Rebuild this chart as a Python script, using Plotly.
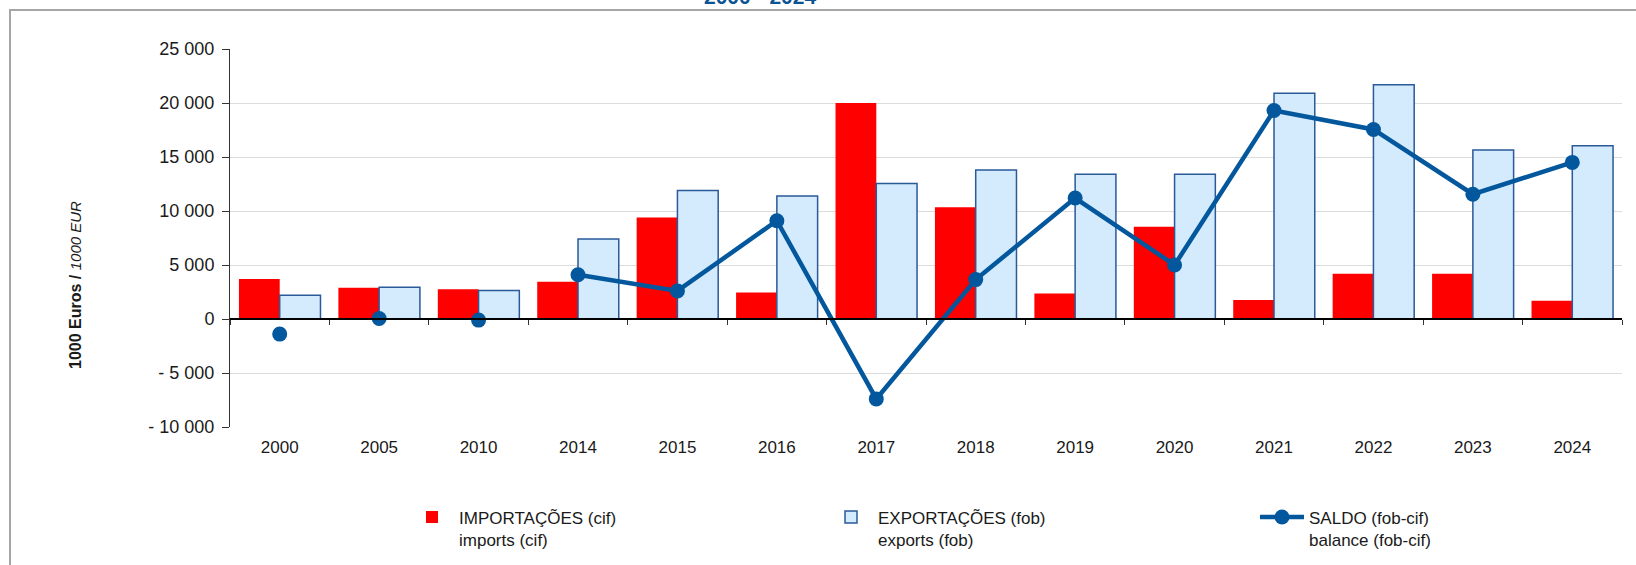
import plotly.graph_objects as go

years = ["2000", "2005", "2010", "2014", "2015", "2016", "2017", "2018",
         "2019", "2020", "2021", "2022", "2023", "2024"]
imports_cif = [3700, 2900, 2750, 3450, 9400, 2450, 20000, 10350, 2350, 8550,
               1750, 4200, 4200, 1700]
exports_fob = [2200, 2950, 2650, 7400, 11900, 11400, 12550, 13800, 13400, 13400,
               20900, 21700, 15650, 16050]
balance = [-1400, 50, -100, 4100, 2600, 9100, -7400, 3650, 11200, 5000,
           19300, 17550, 11550, 14500]
# first years are isolated (non-consecutive) points, the line starts in 2014
first_connected = 3

ytick_vals = [-10000, -5000, 0, 5000, 10000, 15000, 20000, 25000]
ytick_text = ["- 10 000", "- 5 000", "0", "5 000", "10 000", "15 000", "20 000", "25 000"]

FONT = "Liberation Sans, Arial, sans-serif"
RED = "#ff0000"
LBLUE = "#d3ebfd"
DBLUE = "#2a5a98"
LINE = "#03579d"
TXT = "#1a1a1a"

fig = go.Figure()
fig.add_trace(go.Bar(
    x=years, y=imports_cif, name="IMPORTAÇÕES (cif)<br>imports (cif)",
    marker=dict(color=RED, line=dict(width=0)), legend="legend"))
fig.add_trace(go.Bar(
    x=years, y=exports_fob, name="EXPORTAÇÕES (fob)<br>exports (fob)",
    marker=dict(color=LBLUE, line=dict(color=DBLUE, width=1.5)), legend="legend2"))
fig.add_trace(go.Scatter(
    x=years[:first_connected], y=balance[:first_connected], mode="markers",
    marker=dict(color=LINE, size=15), showlegend=False, legendgroup="saldo"))
fig.add_trace(go.Scatter(
    x=years[first_connected:], y=balance[first_connected:], mode="lines+markers",
    name="SALDO (fob-cif)<br>balance (fob-cif)", legendgroup="saldo",
    line=dict(color=LINE, width=4.5), marker=dict(color=LINE, size=15),
    legend="legend3"))
# helper (invisible) trace carrying the zero-line axis with boundary ticks
fig.add_trace(go.Scatter(
    x=years, y=[None] * len(years), xaxis="x2", showlegend=False,
    hoverinfo="skip", mode="markers"))

W, H = 1636, 565
L, R, T, B = 230, 14, 49, 138
pw, ph = W - L - R, H - T - B


def px_x(p):
    return (p - L) / pw


def px_y(p):
    return 1 - (p - T) / ph


legend_common = dict(orientation="v", xanchor="left", yanchor="top",
                      bgcolor="rgba(0,0,0,0)", borderwidth=0,
                      font=dict(family=FONT, size=17, color=TXT),
                      valign="top", itemwidth=44)

fig.update_layout(
    width=W, height=H,
    margin=dict(l=L, r=R, t=T, b=B, autoexpand=False),
    paper_bgcolor="white", plot_bgcolor="white",
    barmode="group", bargap=0.18, bargroupgap=0,
    font=dict(family=FONT, color=TXT),
    legend=dict(x=px_x(405), y=px_y(499.5), **legend_common),
    legend2=dict(x=px_x(824), y=px_y(499.5), **legend_common),
    legend3=dict(x=px_x(1255), y=px_y(499.5), **legend_common),
    xaxis=dict(type="category", range=[-0.5, len(years) - 0.5], autorange=False,
               showgrid=False, showline=False, ticks="",
               tickfont=dict(family=FONT, size=17, color=TXT),
               ticklabelstandoff=8, fixedrange=True),
    xaxis2=dict(type="category", overlaying="x", matches="x", anchor="free",
                position=(0 - ytick_vals[0]) / (ytick_vals[-1] - ytick_vals[0]),
                side="bottom", showline=True, linecolor="#000000", linewidth=1.5,
                ticks="outside", ticklen=5, tickcolor="#333333", tickwidth=1,
                tickson="boundaries", showticklabels=False, showgrid=False),
    yaxis=dict(range=[ytick_vals[0], ytick_vals[-1]], tickvals=ytick_vals,
               ticktext=ytick_text, showgrid=True, gridcolor="#dcdcdc",
               gridwidth=1.2, zeroline=False, showline=True,
               linecolor="#333333", linewidth=1, ticks="outside", ticklen=7,
               tickcolor="#333333",
               tickfont=dict(family=FONT, size=18, color=TXT),
               ticklabelstandoff=4),
    annotations=[
        dict(text="<b>1000 Euros /</b> <i><span style='font-size:15px'>1000 EUR</span></i>",
             xref="paper", yref="paper", x=px_x(75), y=px_y(285),
             xanchor="center", yanchor="middle", textangle=-90, showarrow=False,
             font=dict(family=FONT, size=16, color=TXT)),
        dict(text="<b>2000 - 2024</b>", xref="paper", yref="paper",
             x=px_x(760), y=px_y(-3), xanchor="center", yanchor="middle",
             showarrow=False, font=dict(family=FONT, size=21, color="#0b5394")),
    ],
    shapes=[
        dict(type="rect", xref="paper", yref="paper",
             x0=px_x(10), y0=px_y(10), x1=px_x(W + 40), y1=px_y(H + 40),
             line=dict(color="#a6a6a6", width=2), fillcolor="rgba(0,0,0,0)",
             layer="below"),
    ],
)

fig.write_html("out.html",
               config={"displayModeBar": False},
               post_script="document.body.style.margin='0';"
                           "document.body.style.overflow='hidden';")
